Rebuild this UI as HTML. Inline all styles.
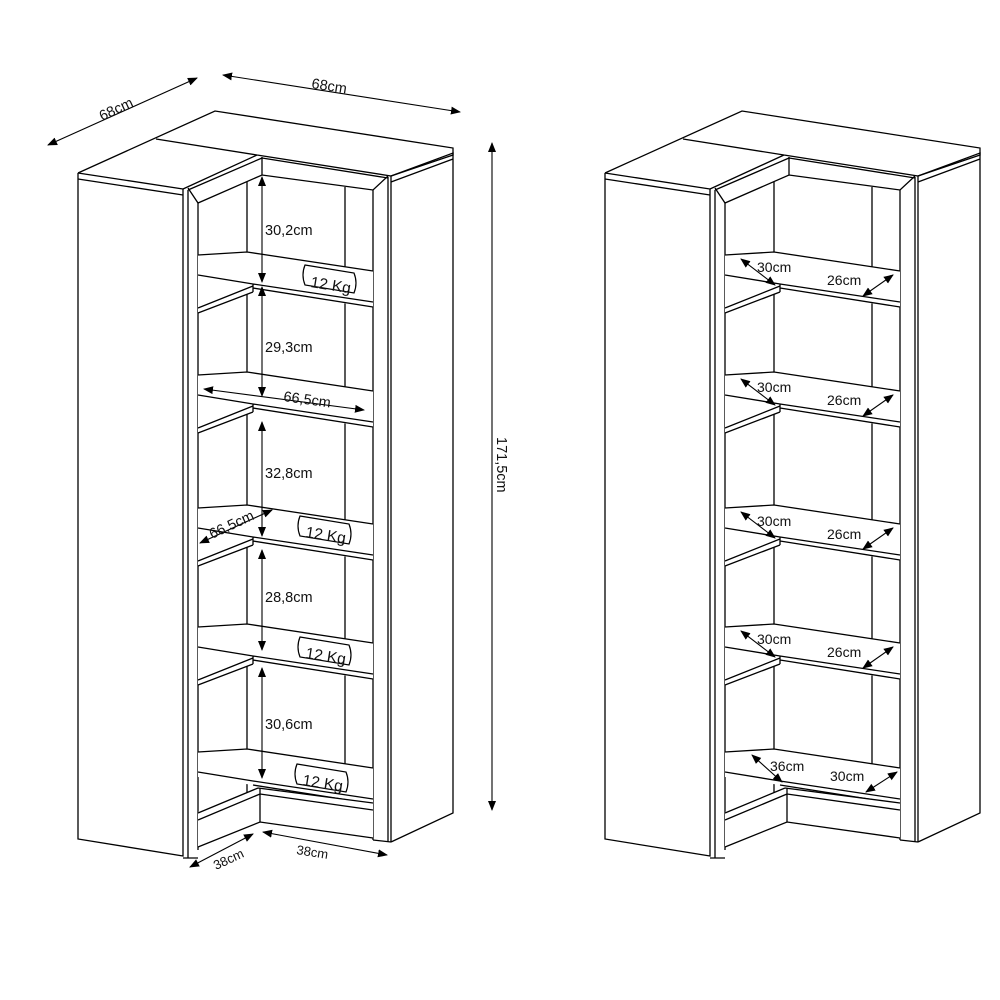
<!DOCTYPE html>
<html><head><meta charset="utf-8"><style>
html,body{margin:0;padding:0;background:#fff}
svg{display:block}
text{font-family:"Liberation Sans",Arial,sans-serif;font-size:14.5px;fill:#111}
</style></head><body>
<svg width="1000" height="1000" viewBox="0 0 1000 1000" xmlns="http://www.w3.org/2000/svg">
<defs>
<marker id="ar" viewBox="0 0 10 10" refX="9" refY="5" markerWidth="10" markerHeight="10" orient="auto-start-reverse" markerUnits="userSpaceOnUse"><path d="M0,1 L10,5 L0,9 Z" fill="#000"/></marker>
<g id="sh">
<polygon points="198,0 247,-3 373,16 373,52 253,37 198,58" fill="#fff" stroke="none"/>
<path d="M198,0 L247,-3 L373,16 M198,20 L253,29 L373,47 M253,33 L373,52 M198,53 L253,31 M198,58 L253,37 M253,29 L253,37" fill="none" stroke="#000" stroke-width="1.3"/>
</g>
<g id="shb">
<polygon points="198,0 247,-3 373,16 373,52 253,33 198,25" fill="#fff" stroke="none"/>
<path d="M198,0 L247,-3 L373,16 M198,20 L253,29 L373,47 M253,33 L373,52" fill="none" stroke="#000" stroke-width="1.3"/>
</g>
<g id="cab" fill="none" stroke="#000" stroke-width="1.3">
<path d="M78,173 L215,111 L453,148 L453,155 L391,176"/>
<path d="M78,173 L183,189 M78,179 L183,195 M156,139 L257,155 M183,189 L257,155 M188,190 L262,158 M257,155 L391,176 M262,158 L388,178"/>
<path d="M78,173 L78,839 L183,856 L183,189"/>
<path d="M188,190 L188,858 M198,203 L198,850 M183,858 L198,858"/>
<path d="M188,188 L198,203 L262,175 L373,190 L388,176 M262,157 L262,175"/>
<path d="M247,182 L247,800 M345,187 L345,800"/>
<path d="M373,190 L373,840 M388,177 L388,842 M391,176 L391,842 M373,840 L391,842"/>
<path d="M391,176 L453,153 L453,813 L391,842 M391,182 L453,159"/>
<use href="#sh" y="255"/>
<use href="#sh" y="375"/>
<use href="#sh" y="508"/>
<use href="#sh" y="627"/>
<use href="#shb" y="752"/>
<polygon points="198,812 258,788 373,803 373,838 260,822 198,847" fill="#fff" stroke="none"/>
<path d="M198,813 L258,788 M198,820 L260,794 M258,788 L373,803 M260,794 L373,810 M260,788 L260,822 M198,847 L260,822 L373,838"/>
</g>
</defs>

<use href="#cab"/>
<use href="#cab" x="527"/>

<g stroke="#000" stroke-width="1.1" fill="none" marker-start="url(#ar)" marker-end="url(#ar)">
<line x1="48" y1="145" x2="197" y2="78"/>
<line x1="223" y1="75" x2="460" y2="112"/>
<line x1="492" y1="143" x2="492" y2="810"/>
<line x1="262" y1="177" x2="262" y2="282"/>
<line x1="262" y1="287" x2="262" y2="396"/>
<line x1="262" y1="422" x2="262" y2="536"/>
<line x1="262" y1="550" x2="262" y2="650"/>
<line x1="262" y1="668" x2="262" y2="778"/>
<line x1="204" y1="389" x2="364" y2="410"/>
<line x1="200" y1="543" x2="272" y2="510"/>
<line x1="190" y1="867" x2="253" y2="834"/>
<line x1="263" y1="832" x2="387" y2="855"/>
<line x1="741" y1="259" x2="775" y2="285"/>
<line x1="893" y1="275" x2="863" y2="296"/>
<line x1="741" y1="379" x2="775" y2="405"/>
<line x1="893" y1="395" x2="863" y2="416"/>
<line x1="741" y1="512" x2="775" y2="538"/>
<line x1="893" y1="528" x2="863" y2="549"/>
<line x1="741" y1="631" x2="775" y2="657"/>
<line x1="893" y1="647" x2="863" y2="668"/>
<line x1="752" y1="755" x2="782" y2="782"/>
<line x1="897" y1="772" x2="866" y2="792"/>
</g>

<g fill="#fff" stroke="#000" stroke-width="1.2">
<path d="M305,265 L354,273 Q358,283 354,293 L305,285 Q301,275 305,265 Z"/>
<path d="M300,516 L349,524 Q353,534 349,544 L300,536 Q296,526 300,516 Z"/>
<path d="M300,637 L349,645 Q353,655 349,665 L300,657 Q296,647 300,637 Z"/>
<path d="M297,764 L346,772 Q350,782 346,792 L297,784 Q293,774 297,764 Z"/>
</g>

<text x="102" y="121" transform="rotate(-25 102 121)">68cm</text>
<text x="311" y="88" transform="rotate(9 311 88)">68cm</text>
<text x="497" y="437" transform="rotate(90 497 437)">171,5cm</text>
<text x="265" y="235">30,2cm</text>
<text x="265" y="352">29,3cm</text>
<text x="265" y="478">32,8cm</text>
<text x="265" y="602">28,8cm</text>
<text x="265" y="729">30,6cm</text>
<text x="283" y="401" transform="rotate(8 283 401)">66,5cm</text>
<text x="212" y="539" transform="rotate(-25 212 539)">66,5cm</text>
<text x="310" y="287" transform="rotate(9 310 287)" style="font-size:15.5px">12 Kg</text>
<text x="305" y="537" transform="rotate(9 305 537)" style="font-size:15.5px">12 Kg</text>
<text x="305" y="658" transform="rotate(9 305 658)" style="font-size:15.5px">12 Kg</text>
<text x="302" y="785" transform="rotate(9 302 785)" style="font-size:15.5px">12 Kg</text>
<text x="216" y="870" transform="rotate(-25 216 870)" style="font-size:13px">38cm</text>
<text x="296" y="854" transform="rotate(9 296 854)" style="font-size:13px">38cm</text>

<text x="757" y="272" style="font-size:14px">30cm</text>
<text x="827" y="285" style="font-size:14px">26cm</text>
<text x="757" y="392" style="font-size:14px">30cm</text>
<text x="827" y="405" style="font-size:14px">26cm</text>
<text x="757" y="526" style="font-size:14px">30cm</text>
<text x="827" y="539" style="font-size:14px">26cm</text>
<text x="757" y="644" style="font-size:14px">30cm</text>
<text x="827" y="657" style="font-size:14px">26cm</text>
<text x="770" y="771" style="font-size:14px">36cm</text>
<text x="830" y="781" style="font-size:14px">30cm</text>
</svg>
</body></html>
